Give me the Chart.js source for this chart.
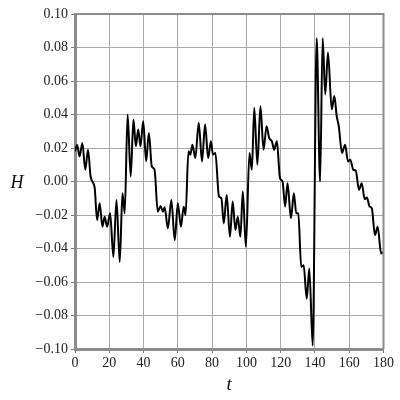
<!DOCTYPE html>
<html>
<head>
<meta charset="utf-8">
<script src="https://cdn.jsdelivr.net/npm/chart.js@4/dist/chart.umd.min.js"></script>
<style>
html,body{margin:0;padding:0;background:#fff;}
#wrap{width:400px;height:400px;}
</style>
</head>
<body>
<div id="wrap"><canvas id="c" width="400" height="400"></canvas></div>
<script>
// time values t
const T = [0,1.2,2.7,4.3,6.0,7.6,9.1,10.7,11.5,12.9,14.4,16.0,17.3,18.7,20.5,22.4,24.2,26.1,27.7,29.0,
30.7,32.5,34.1,35.5,36.9,38.2,39.8,41.5,43.1,44.8,46.4,48.3,49.9,51.3,52.3,54.2,56.2,58.2,60.0,61.8,
63.4,64.5,66.2,67.3,68.5,70.2,72.2,74.1,75.9,77.7,79.3,80.5,81.9,84.0,85.4,86.8,88.5,90.4,92.0,93.6,
95.0,96.5,97.9,99.7,101.8,103.2,104.6,106.4,108.2,110.0,111.8,113.3,114.9,116.2,117.8,119.6,121.1,122.6,124.0,126.0,
127.7,129.1,130.3,132.0,133.4,135.2,136.7,138.7,141.0,143.0,144.5,146.0,147.6,149.8,151.3,152.7,153.9,155.8,157.6,159.3,
160.6,162.4,163.8,165.7,167.3,169.0,170.3,171.9,173.2,175.0,176.6,178.6,179.6];
// H values
const H = [0.018,0.022,0.015,0.023,0.007,0.019,0.003,-0.001,-0.004,-0.023,-0.013,-0.027,-0.021,-0.027,-0.019,-0.045,-0.011,-0.048,-0.007,-0.019,
0.040,0.003,0.037,0.021,0.031,0.021,0.036,0.012,0.029,0.009,0.007,-0.018,-0.0146,-0.018,-0.0154,-0.028,-0.011,-0.035,-0.013,-0.027,
-0.015,-0.020,0.018,0.016,0.022,0.014,0.035,0.012,0.034,0.014,0.024,0.016,0.017,-0.009,-0.010,-0.025,-0.008,-0.033,-0.012,-0.029,
-0.021,-0.033,-0.006,-0.039,0.017,0.007,0.044,0.010,0.045,0.019,0.033,0.026,0.024,0.019,0.024,0.002,0.000,-0.015,-0.001,-0.022,
-0.007,-0.019,-0.019,-0.051,-0.050,-0.070,-0.052,-0.098,0.0855,0.000,0.0855,0.052,0.077,0.043,0.051,0.039,0.033,0.017,0.022,0.012,
0.013,0.007,0.0065,-0.005,-0.001,-0.0105,-0.0095,-0.015,-0.016,-0.032,-0.027,-0.043,-0.042];
const xTicks = [0,20,40,60,80,100,120,140,160,180];
const yTicks = [-0.10,-0.08,-0.06,-0.04,-0.02,0.00,0.02,0.04,0.06,0.08,0.10];
const xTitle = 't';
const yTitle = 'H';

const points = T.map((t,i)=>({x:t,y:H[i]}));
const fmtY = v => { if (Math.abs(v) < 1e-9) return '0.00'; return (v<0?'\u2212':'') + Math.abs(v).toFixed(2); };

const framePlugin = {
  id:'frame',
  afterDraw(chart){
    const {ctx, chartArea:a} = chart;
    ctx.save();
    ctx.strokeStyle = '#8c8c8c';
    ctx.lineWidth = 2;
    ctx.beginPath();
    ctx.moveTo(a.left, a.top); ctx.lineTo(a.right, a.top); ctx.lineTo(a.right, a.bottom);
    ctx.stroke();
    ctx.fillStyle = '#111';
    ctx.font = 'italic 18px "Liberation Serif", "DejaVu Serif", serif';
    ctx.textAlign = 'center';
    ctx.textBaseline = 'middle';
    ctx.fillText(yTitle, 17, (a.top + a.bottom)/2 + 2);
    ctx.restore();
  }
};

new Chart(document.getElementById('c'), {
  type:'line',
  data:{datasets:[{data:points, borderColor:'#000', borderWidth:2, pointRadius:0, cubicInterpolationMode:'monotone', fill:false}]},
  options:{
    responsive:false, animation:false, devicePixelRatio:1,
    layout:{padding:{top:14, right:16.5, left:0, bottom:0}},
    plugins:{legend:{display:false}, tooltip:{enabled:false}},
    scales:{
      x:{type:'linear', min:0, max:180,
        afterBuildTicks: s => { s.ticks = xTicks.map(v=>({value:v})); },
        afterFit: s => { s.height = 51; },
        grid:{color:'#a8a8a8', lineWidth:1, tickLength:4, tickColor:'#777'},
        border:{display:true, color:'#8c8c8c', width:3},
        ticks:{color:'#222', font:{family:'"Liberation Serif", serif', size:14}, padding:2, maxRotation:0},
        title:{display:true, text:xTitle, color:'#111', font:{family:'"Liberation Serif", serif', size:19, style:'italic'}, padding:{top:0,bottom:4}}
      },
      y:{min:-0.1, max:0.1,
        afterBuildTicks: s => { s.ticks = yTicks.map(v=>({value:v})); },
        afterFit: s => { s.width = 75; },
        grid:{color:'#a8a8a8', lineWidth:1, tickLength:4, tickColor:'#777'},
        border:{display:true, color:'#8c8c8c', width:3},
        ticks:{color:'#222', font:{family:'"Liberation Serif", serif', size:14}, padding:3, callback: v => fmtY(v)}
      }
    }
  },
  plugins:[framePlugin]
});
</script>
</body>
</html>
